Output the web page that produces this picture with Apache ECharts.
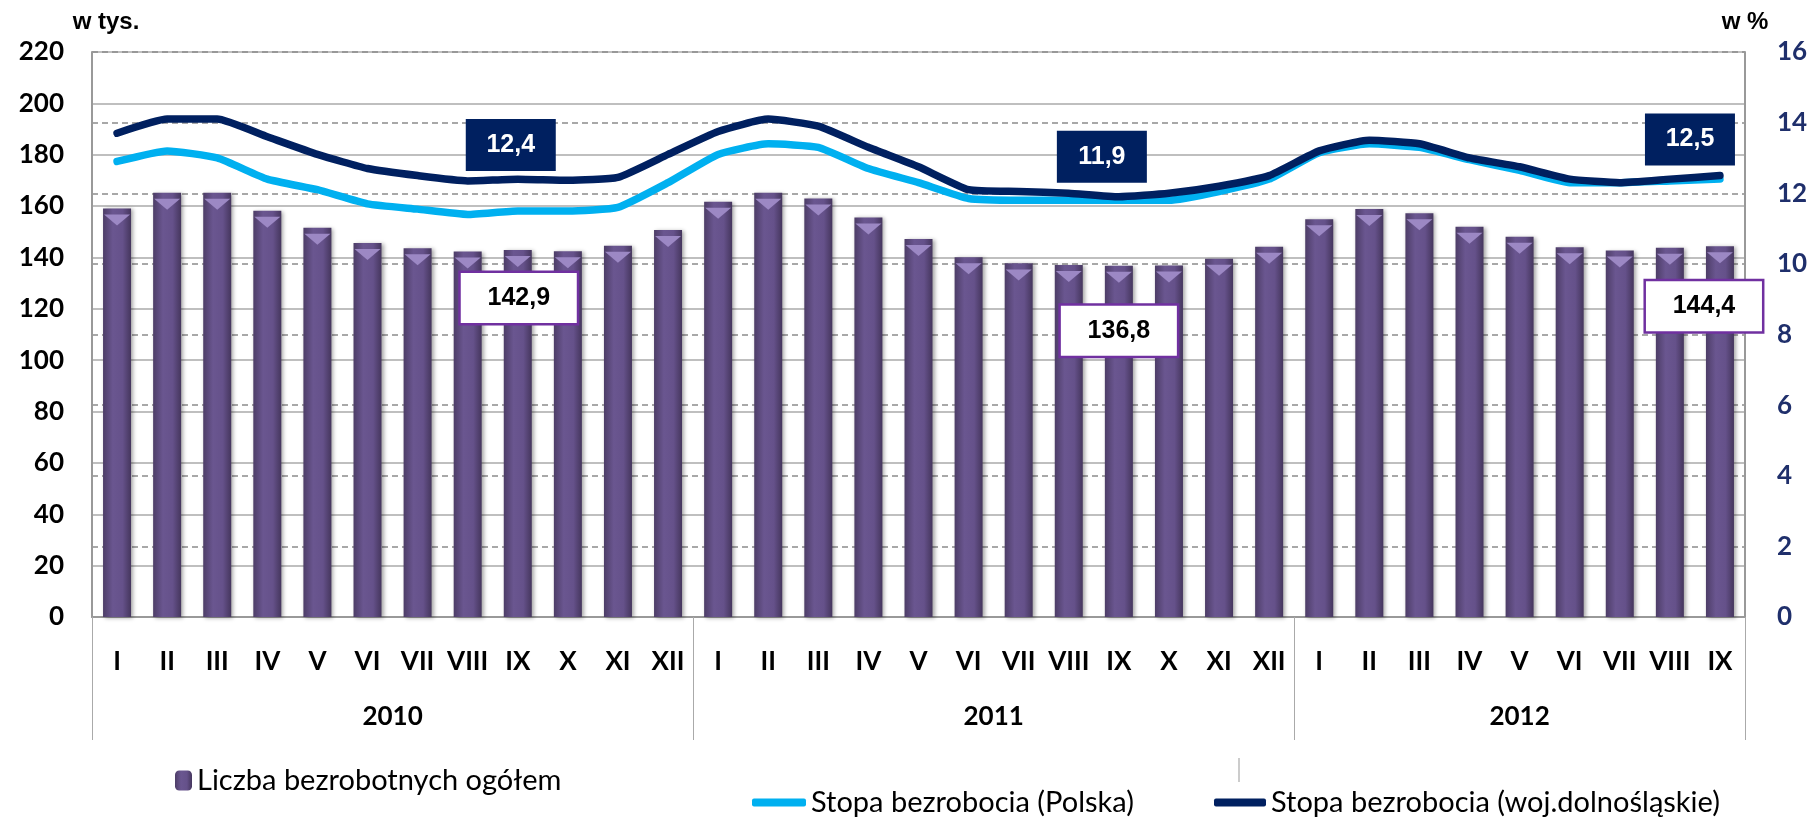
<!DOCTYPE html>
<html>
<head>
<meta charset="utf-8">
<script src="https://cdn.jsdelivr.net/npm/echarts@6/dist/echarts.min.js"></script>
<style>
  html, body { margin: 0; padding: 0; background: #fff; }
  #chart { width: 1814px; height: 818px; }
</style>
</head>
<body>
<div id="chart"></div>
<script>
// months of 2010, 2011 and 2012 (to IX)
var months = ['I','II','III','IV','V','VI','VII','VIII','IX','X','XI','XII',
              'I','II','III','IV','V','VI','VII','VIII','IX','X','XI','XII',
              'I','II','III','IV','V','VI','VII','VIII','IX'];
var years = ['2010', '2011', '2012'];
var monthsPerYear = [12, 12, 9];

// Liczba bezrobotnych ogółem (w tys.)
var liczba = [159.1, 165.2, 165.2, 158.2, 151.6, 145.6, 143.6, 142.3, 142.9, 142.4, 144.6, 150.7,
              161.7, 165.2, 163.0, 155.6, 147.2, 140.1, 137.7, 137.1, 136.8, 136.9, 139.5, 144.2,
              154.9, 158.9, 157.2, 152.0, 148.1, 144.0, 142.7, 143.8, 144.4];

// Stopa bezrobocia (w %)
var stopaPolska = [12.9, 13.2, 13.0, 12.4, 12.1, 11.7, 11.55, 11.4, 11.5, 11.5, 11.6, 12.3,
                   13.1, 13.4, 13.3, 12.7, 12.3, 11.85, 11.8, 11.8, 11.8, 11.8, 12.05, 12.4,
                   13.15, 13.4, 13.3, 12.95, 12.65, 12.3, 12.3, 12.35, 12.4];
var stopaDolnoslaskie = [13.7, 14.1, 14.1, 13.6, 13.1, 12.7, 12.5, 12.35, 12.4, 12.37, 12.45, 13.1,
                         13.75, 14.1, 13.9, 13.3, 12.75, 12.1, 12.05, 12.0, 11.9, 12.0, 12.2, 12.5,
                         13.2, 13.5, 13.4, 13.0, 12.75, 12.4, 12.3, 12.4, 12.5];

var leftAxis = { min: 0, max: 220, interval: 20 };
var rightAxis = { min: 0, max: 16, interval: 2 };

// months that carry a value box (IX of each year)
var labelIndex = [8, 20, 32];

var chartDom = document.getElementById('chart');
var myChart = echarts.init(chartDom);

var fmt = function (v) { return String(v).replace('.', ','); };

// year boundaries and centres on the category scale
var bounds = [0];
monthsPerYear.forEach(function (n, i) { bounds.push(bounds[i] + n); });
var centres = years.map(function (y, i) { return (bounds[i] + bounds[i + 1]) / 2; });

var lineBox = [
    { distance: 8, dx: -7 },
    { distance: 14, dx: -17 },
    { distance: 10, dx: -30 }
];
var barBox = [
    { distance: 23, dx: 1 },
    { distance: 40, dx: 0 },
    { distance: 35, dx: -16 }
];

var lineData = stopaDolnoslaskie.map(function (v, i) {
    var k = labelIndex.indexOf(i);
    if (k < 0) return v;
    return {
        value: v,
        label: {
            show: true,
            position: 'top',
            distance: lineBox[k].distance,
            offset: [lineBox[k].dx, 0],
            formatter: fmt(v),
            backgroundColor: '#002060',
            color: '#fff',
            fontFamily: 'Liberation Sans',
            fontWeight: 'bold',
            fontSize: 25,
            width: 90,
            height: 52,
            lineHeight: 52
        }
    };
});

var barData = liczba.map(function (v, i) {
    var k = labelIndex.indexOf(i);
    if (k < 0) return v;
    return {
        value: v,
        label: {
            show: true,
            position: 'insideTop',
            distance: barBox[k].distance,
            offset: [barBox[k].dx, 0],
            formatter: fmt(v),
            backgroundColor: '#fff',
            borderColor: '#7030A0',
            borderWidth: 2.5,
            color: '#000',
            fontFamily: 'Liberation Sans',
            fontWeight: 'bold',
            fontSize: 25,
            width: 116,
            height: 50,
            lineHeight: 50
        }
    };
});

var barColor = new echarts.graphic.LinearGradient(0, 0, 1, 0, [
    { offset: 0, color: '#4d3d67' },
    { offset: 0.35, color: '#6a5690' },
    { offset: 0.7, color: '#65518a' },
    { offset: 1, color: '#45365d' }
]);

var legendText = { fontFamily: 'Lato', fontSize: 29, color: '#000' };

var option = {
    animation: false,
    grid: { left: 92, right: 69, top: 52, bottom: 201 },
    legend: [
        {
            data: ['Liczba bezrobotnych ogółem'],
            left: 170, top: 761,
            itemWidth: 17, itemHeight: 20,
            textStyle: legendText
        },
        {
            data: [{ name: 'Stopa bezrobocia (Polska)', icon: 'roundRect' }],
            left: 747, top: 783,
            itemWidth: 54, itemHeight: 8,
            textStyle: legendText
        },
        {
            data: [{ name: 'Stopa bezrobocia (woj.dolnośląskie)', icon: 'roundRect' }],
            left: 1209, top: 783,
            itemWidth: 52, itemHeight: 8,
            textStyle: legendText
        }
    ],
    graphic: [
        { type: 'line', shape: { x1: 1239, y1: 758, x2: 1239, y2: 782 }, style: { stroke: '#999', lineWidth: 1 } }
    ],
    xAxis: [
        {
            type: 'category',
            data: months,
            position: 'bottom',
            axisLine: { lineStyle: { color: '#999', width: 2 } },
            axisTick: { show: false },
            axisLabel: {
                interval: 0,
                margin: 32,
                color: '#000',
                fontFamily: 'Lato',
                fontWeight: 'bold',
                fontSize: 26
            }
        },
        {
            type: 'value',
            min: 0,
            max: months.length,
            position: 'bottom',
            offset: 0,
            axisLine: { show: false },
            splitLine: { show: false },
            axisTick: {
                show: true,
                customValues: bounds,
                length: 123,
                lineStyle: { color: '#aaa', width: 1 }
            },
            axisLabel: {
                customValues: centres,
                margin: 87,
                color: '#000',
                fontFamily: 'Lato',
                fontWeight: 'bold',
                fontSize: 26,
                formatter: function (v) {
                    var i = centres.indexOf(v);
                    return i < 0 ? '' : years[i];
                }
            }
        }
    ],
    yAxis: [
        {
            type: 'value',
            min: leftAxis.min, max: leftAxis.max, interval: leftAxis.interval,
            name: 'w tys.',
            nameLocation: 'end',
            nameGap: 18,
            nameTextStyle: {
                color: '#000', fontFamily: 'Liberation Sans', fontWeight: 'bold', fontSize: 24,
                align: 'center', padding: [0, 0, 0, 28]
            },
            axisLine: { show: true, lineStyle: { color: '#999', width: 2 } },
            axisTick: { show: false },
            splitLine: { lineStyle: { color: '#bfbfbf', width: 2 } },
            axisLabel: {
                margin: 28,
                color: '#000',
                fontFamily: 'Lato',
                fontWeight: 'bold',
                fontSize: 26
            }
        },
        {
            type: 'value',
            position: 'right',
            min: rightAxis.min, max: rightAxis.max, interval: rightAxis.interval,
            name: 'w %',
            nameLocation: 'end',
            nameGap: 18,
            nameTextStyle: {
                color: '#000', fontFamily: 'Liberation Sans', fontWeight: 'bold', fontSize: 24,
                align: 'center'
            },
            axisLine: { show: true, lineStyle: { color: '#999', width: 2 } },
            axisTick: { show: false },
            splitLine: { lineStyle: { color: '#8c8c8c', width: 1.5, type: [6, 4] } },
            axisLabel: {
                margin: 32,
                color: '#1f2f6b',
                fontFamily: 'Lato',
                fontWeight: 'bold',
                fontSize: 26
            }
        }
    ],
    series: [
        {
            name: 'Liczba bezrobotnych ogółem',
            type: 'bar',
            xAxisIndex: 0,
            yAxisIndex: 0,
            barWidth: 28,
            data: barData,
            itemStyle: {
                color: barColor,
                shadowColor: 'rgba(0,0,0,0.35)',
                shadowBlur: 4,
                shadowOffsetX: 2,
                shadowOffsetY: 1
            },
            label: { show: false },
            z: 2
        },
        {
            name: 'bevel',
            type: 'pictorialBar',
            xAxisIndex: 0,
            yAxisIndex: 0,
            barWidth: 28,
            symbol: 'triangle',
            symbolRotate: 180,
            symbolSize: [26, 11],
            symbolPosition: 'end',
            symbolOffset: [0, '55%'],
            itemStyle: { color: '#9c88c4' },
            data: liczba,
            silent: true,
            z: 3
        },
        {
            name: 'Stopa bezrobocia (Polska)',
            type: 'line',
            xAxisIndex: 0,
            yAxisIndex: 1,
            data: stopaPolska,
            smooth: 0.15,
            showSymbol: false,
            symbol: 'none',
            color: '#00b0f0',
            lineStyle: { width: 7.5, color: '#00b0f0', cap: 'round', join: 'round' },
            z: 4
        },
        {
            name: 'Stopa bezrobocia (woj.dolnośląskie)',
            type: 'line',
            xAxisIndex: 0,
            yAxisIndex: 1,
            data: lineData,
            smooth: 0.15,
            symbol: 'circle',
            symbolSize: 0.1,
            color: '#002060',
            lineStyle: { width: 7.5, color: '#002060', cap: 'round', join: 'round' },
            label: { show: false },
            z: 5
        }
    ]
};

option && myChart.setOption(option);
</script>
</body>
</html>
